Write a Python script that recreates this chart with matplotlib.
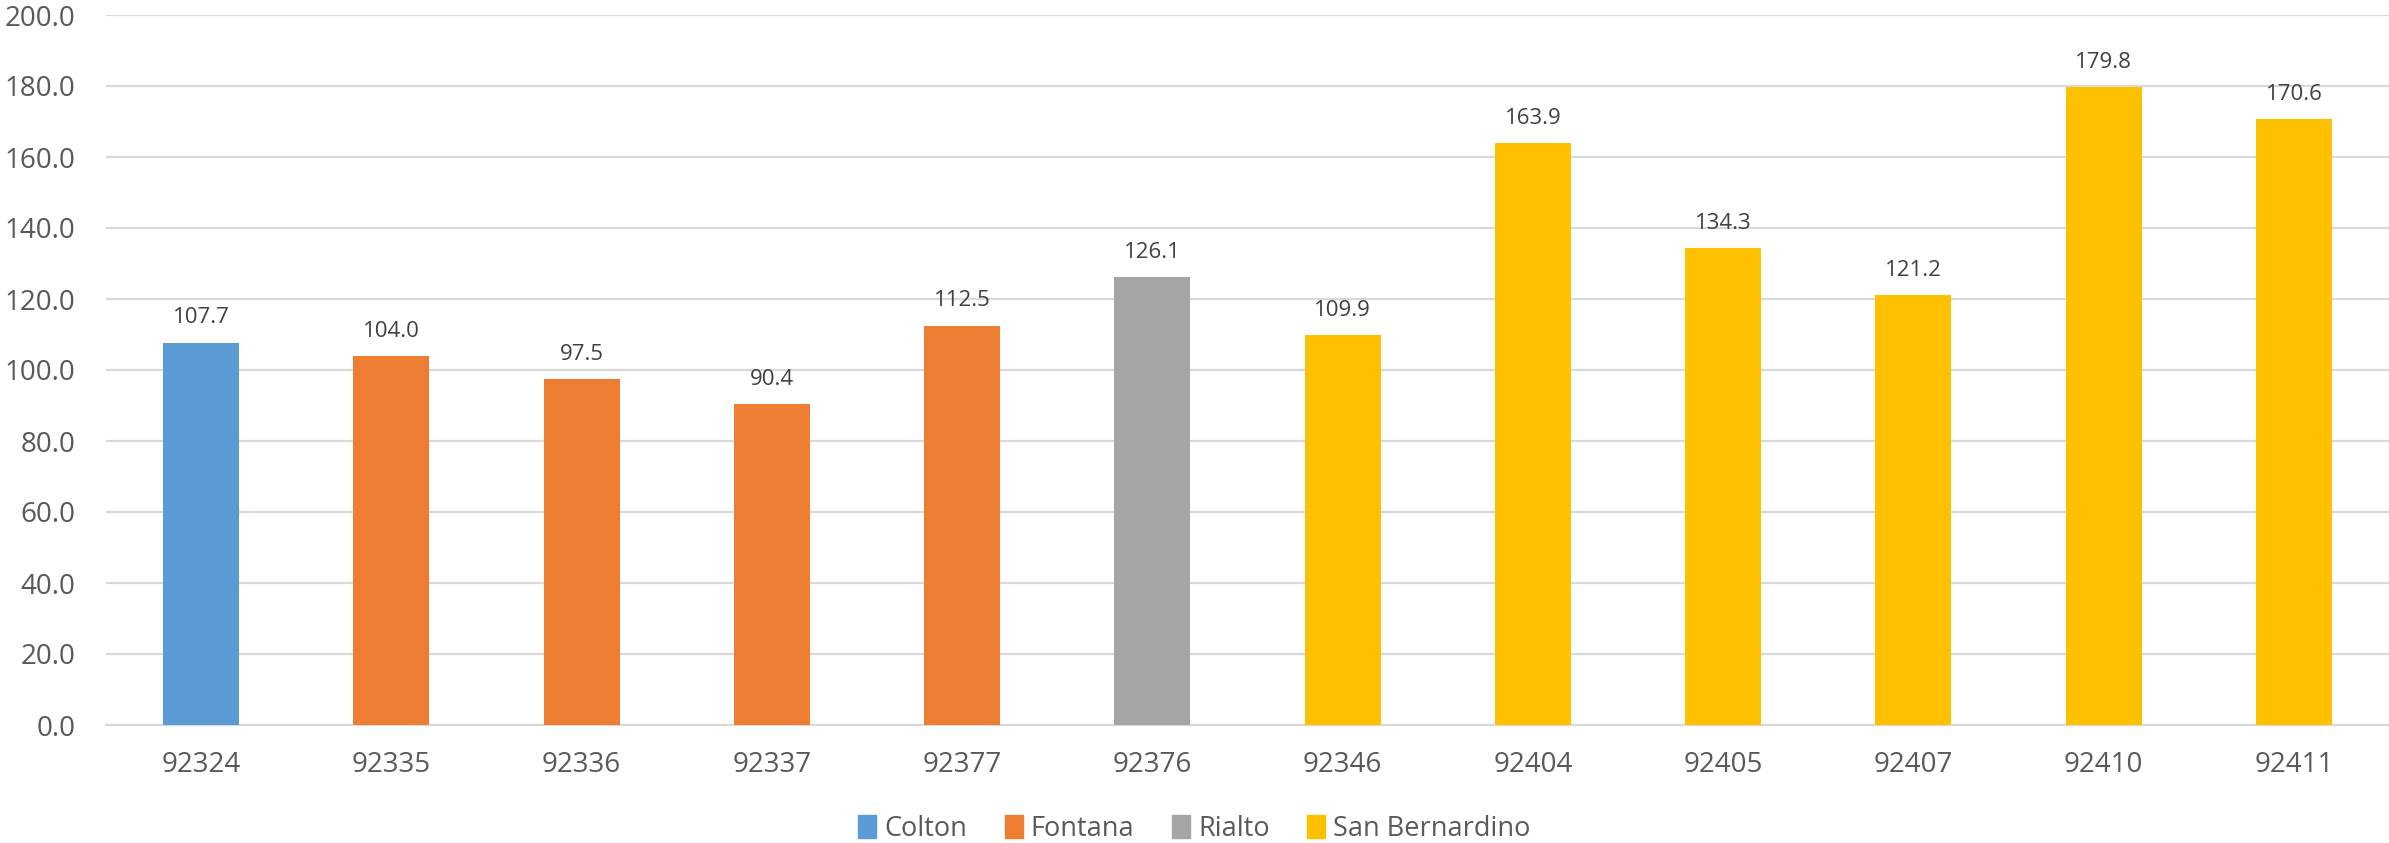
import matplotlib.pyplot as plt
from matplotlib.patches import Patch

# data
zips = ['92324', '92335', '92336', '92337', '92377', '92376',
        '92346', '92404', '92405', '92407', '92410', '92411']
cities = ['Colton', 'Fontana', 'Fontana', 'Fontana', 'Fontana', 'Rialto',
          'San Bernardino', 'San Bernardino', 'San Bernardino',
          'San Bernardino', 'San Bernardino', 'San Bernardino']
values = [107.7, 104.0, 97.5, 90.4, 112.5, 126.1,
          109.9, 163.9, 134.3, 121.2, 179.8, 170.6]
city_order = ['Colton', 'Fontana', 'Rialto', 'San Bernardino']
city_colors = {'Colton': '#5B9BD5', 'Fontana': '#ED7D31',
               'Rialto': '#A5A5A5', 'San Bernardino': '#FFC000'}

txt = '#595959'
plt.rcParams['font.family'] = ['Open Sans', 'DejaVu Sans']

fig = plt.figure(figsize=(23.89, 8.43), dpi=100)
ax = fig.add_axes([106 / 2389, 1 - 725 / 843, (2389 - 106) / 2389, (725 - 15) / 843])

x = list(range(len(zips)))
ax.bar(x, values, width=0.4, color=[city_colors[c] for c in cities], zorder=3)
for xi, v in zip(x, values):
    ax.text(xi, v + 4, f'{v:.1f}', ha='center', va='bottom', fontsize=16,
            color='#404040', zorder=4)

ax.set_xlim(-0.5, len(zips) - 0.5)
ax.set_ylim(0, 200)
ax.set_yticks(range(0, 201, 20))
ax.set_yticklabels([f'{t:.1f}' for t in range(0, 201, 20)])
ax.set_xticks(x)
ax.set_xticklabels(zips)
ax.tick_params(axis='both', length=0, labelsize=20, colors=txt)
ax.tick_params(axis='x', pad=19)
ax.tick_params(axis='y', pad=22)
ax.grid(axis='y', color='#D9D9D9', linewidth=1.6, zorder=0)
for s in ['top', 'right', 'left']:
    ax.spines[s].set_visible(False)
ax.spines['bottom'].set_color('#D9D9D9')
ax.spines['bottom'].set_linewidth(1.6)

handles = [Patch(color=city_colors[c], label=c) for c in city_order]
fig.legend(handles=handles, loc='center', bbox_to_anchor=(0.5, 1 - 829 / 843),
           ncol=4, frameon=False, fontsize=19.5, labelcolor=txt,
           handlelength=0.65, handleheight=0.9, handletextpad=0.3,
           columnspacing=1.4)

fig.savefig('out.png', dpi=100)
